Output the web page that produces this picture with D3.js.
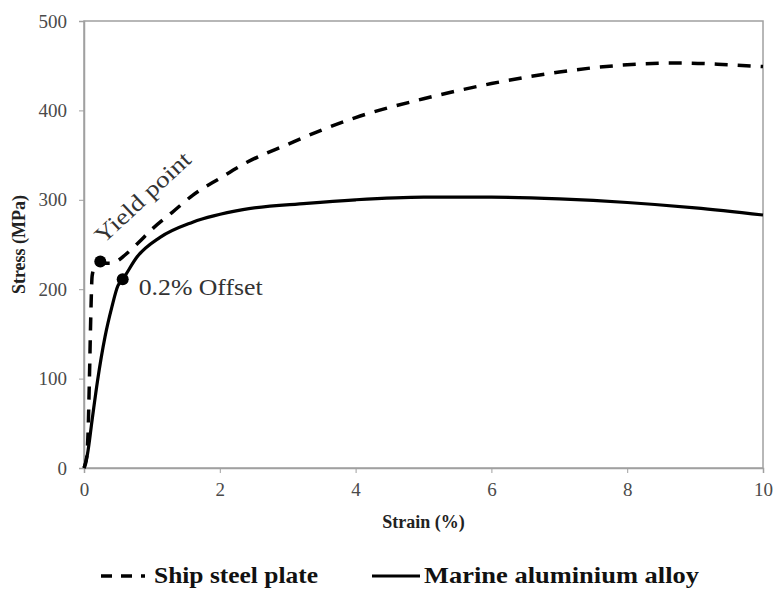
<!DOCTYPE html>
<html>
<head>
<meta charset="utf-8">
<script src="https://cdn.jsdelivr.net/npm/d3@7"></script>
<style>
  html, body { margin: 0; padding: 0; background: #fff; }
  svg { display: block; }
  text { font-family: "Liberation Serif", "Times New Roman", serif; }
</style>
</head>
<body>
<svg id="chart" width="773" height="590"></svg>
<script>
// Tensile test curves: strain (%) vs engineering stress (MPa)
const steelStrain = [0, 0.04, 0.06, 0.08, 0.10, 0.12, 0.16, 0.24, 0.30, 0.40, 0.50, 0.60, 0.80, 1.0, 1.3, 1.6, 2.0, 2.4, 3.0, 3.5, 4.0, 5.0, 6.0, 7.0, 8.0, 8.8, 9.5, 10.0];
const steelStress = [0, 12, 40, 100, 170, 215, 226, 231, 229, 229, 232, 238, 252, 267, 286, 305, 324, 342, 362, 378, 392, 413, 430, 443, 451, 453, 451, 449];

const aluStrain = [0, 0.05, 0.12, 0.20, 0.31, 0.41, 0.50, 0.57, 0.78, 1.12, 1.6, 2.34, 3.28, 4.0, 5.0, 6.0, 7.0, 8.0, 9.0, 10.0];
const aluStress = [0, 15, 54, 98, 147, 180, 204, 211, 236, 258, 275, 289, 296, 300, 303, 303, 301, 297, 291, 283];

// Highlighted points
const markStrain = [0.24, 0.57];
const markStress = [231, 211];
const markLabels = ["Yield point", "0.2% Offset"];

const xTicks = [0, 2, 4, 6, 8, 10];
const yTicks = [0, 100, 200, 300, 400, 500];
const seriesNames = ["Ship steel plate", "Marine aluminium alloy"];

const W = 773, H = 590;
const margin = { top: 21, right: 10, bottom: 122, left: 84 };
const iw = W - margin.left - margin.right;
const ih = H - margin.top - margin.bottom;

const svg = d3.select("#chart");
const g = svg.append("g").attr("transform", `translate(${margin.left},${margin.top})`);

const x = d3.scaleLinear().domain([0, 10]).range([0, iw]);
const y = d3.scaleLinear().domain([0, 500]).range([ih, 0]);

const axisColor = "#a0a0a0";
const labelColor = "#4a4a4a";

// Frame
g.append("rect")
  .attr("x", 0).attr("y", 0).attr("width", iw).attr("height", ih)
  .attr("fill", "none").attr("stroke", axisColor).attr("stroke-width", 1.5);

// Axes
const xAxis = g.append("g").attr("transform", `translate(0,${ih})`)
  .call(d3.axisBottom(x).tickValues(xTicks).tickSize(5).tickPadding(10).tickFormat(d3.format("d")));
const yAxis = g.append("g")
  .call(d3.axisLeft(y).tickValues(yTicks).tickSize(5).tickPadding(12).tickFormat(d3.format("d")));

[xAxis, yAxis].forEach(a => {
  a.select(".domain").attr("stroke", axisColor).attr("stroke-width", 1.5);
  a.selectAll(".tick line").attr("stroke", axisColor).attr("stroke-width", 1);
  a.selectAll(".tick text")
    .attr("fill", labelColor)
    .style("font-family", '"Liberation Serif", serif')
    .style("font-size", "19px");
});

// Axis titles
g.append("text")
  .attr("x", iw / 2).attr("y", ih + 60)
  .attr("text-anchor", "middle")
  .attr("font-weight", "bold").attr("font-size", 18).attr("fill", "#222")
  .text("Strain (%)");

g.append("text")
  .attr("transform", `translate(${-margin.left + 25},${ih / 2}) rotate(-90)`)
  .attr("text-anchor", "middle")
  .attr("font-weight", "bold").attr("font-size", 18).attr("fill", "#222")
  .text("Stress (MPa)");

// Curves
const line = d3.line()
  .x(d => x(d[0]))
  .y(d => y(d[1]))
  .curve(d3.curveMonotoneX);

const steel = steelStrain.map((s, i) => [s, steelStress[i]]);
const alu = aluStrain.map((s, i) => [s, aluStress[i]]);

g.append("path").datum(alu)
  .attr("d", line)
  .attr("fill", "none").attr("stroke", "#000").attr("stroke-width", 3.2);

g.append("path").datum(steel)
  .attr("d", line)
  .attr("fill", "none").attr("stroke", "#000").attr("stroke-width", 3.5)
  .attr("stroke-dasharray", "13,10");

// Markers
g.selectAll("circle.mark")
  .data(markStrain.map((s, i) => [s, markStress[i]]))
  .join("circle")
  .attr("class", "mark")
  .attr("cx", d => x(d[0])).attr("cy", d => y(d[1]))
  .attr("r", 6).attr("fill", "#000");

// Annotations
g.append("text")
  .attr("transform", `translate(${x(markStrain[0]) + 3},${y(markStress[0]) - 17}) rotate(-43)`)
  .attr("font-size", 23).attr("fill", "#333")
  .attr("textLength", 122).attr("lengthAdjust", "spacingAndGlyphs")
  .text(markLabels[0]);

g.append("text")
  .attr("x", x(markStrain[1]) + 16).attr("y", y(markStress[1]) + 16)
  .attr("font-size", 23).attr("fill", "#333")
  .attr("textLength", 124).attr("lengthAdjust", "spacingAndGlyphs")
  .text(markLabels[1]);

// Legend
const ly = 576;
const legend = svg.append("g");
legend.append("line")
  .attr("x1", 101).attr("x2", 145).attr("y1", ly).attr("y2", ly)
  .attr("stroke", "#000").attr("stroke-width", 3.5).attr("stroke-dasharray", "11,9");
legend.append("text")
  .attr("x", 154).attr("y", ly + 7)
  .attr("font-size", 23).attr("font-weight", "bold").attr("fill", "#111")
  .attr("textLength", 164).attr("lengthAdjust", "spacingAndGlyphs")
  .text(seriesNames[0]);
legend.append("line")
  .attr("x1", 372).attr("x2", 420).attr("y1", ly).attr("y2", ly)
  .attr("stroke", "#000").attr("stroke-width", 3);
legend.append("text")
  .attr("x", 424).attr("y", ly + 7)
  .attr("font-size", 23).attr("font-weight", "bold").attr("fill", "#111")
  .attr("textLength", 275).attr("lengthAdjust", "spacingAndGlyphs")
  .text(seriesNames[1]);
</script>
</body>
</html>
